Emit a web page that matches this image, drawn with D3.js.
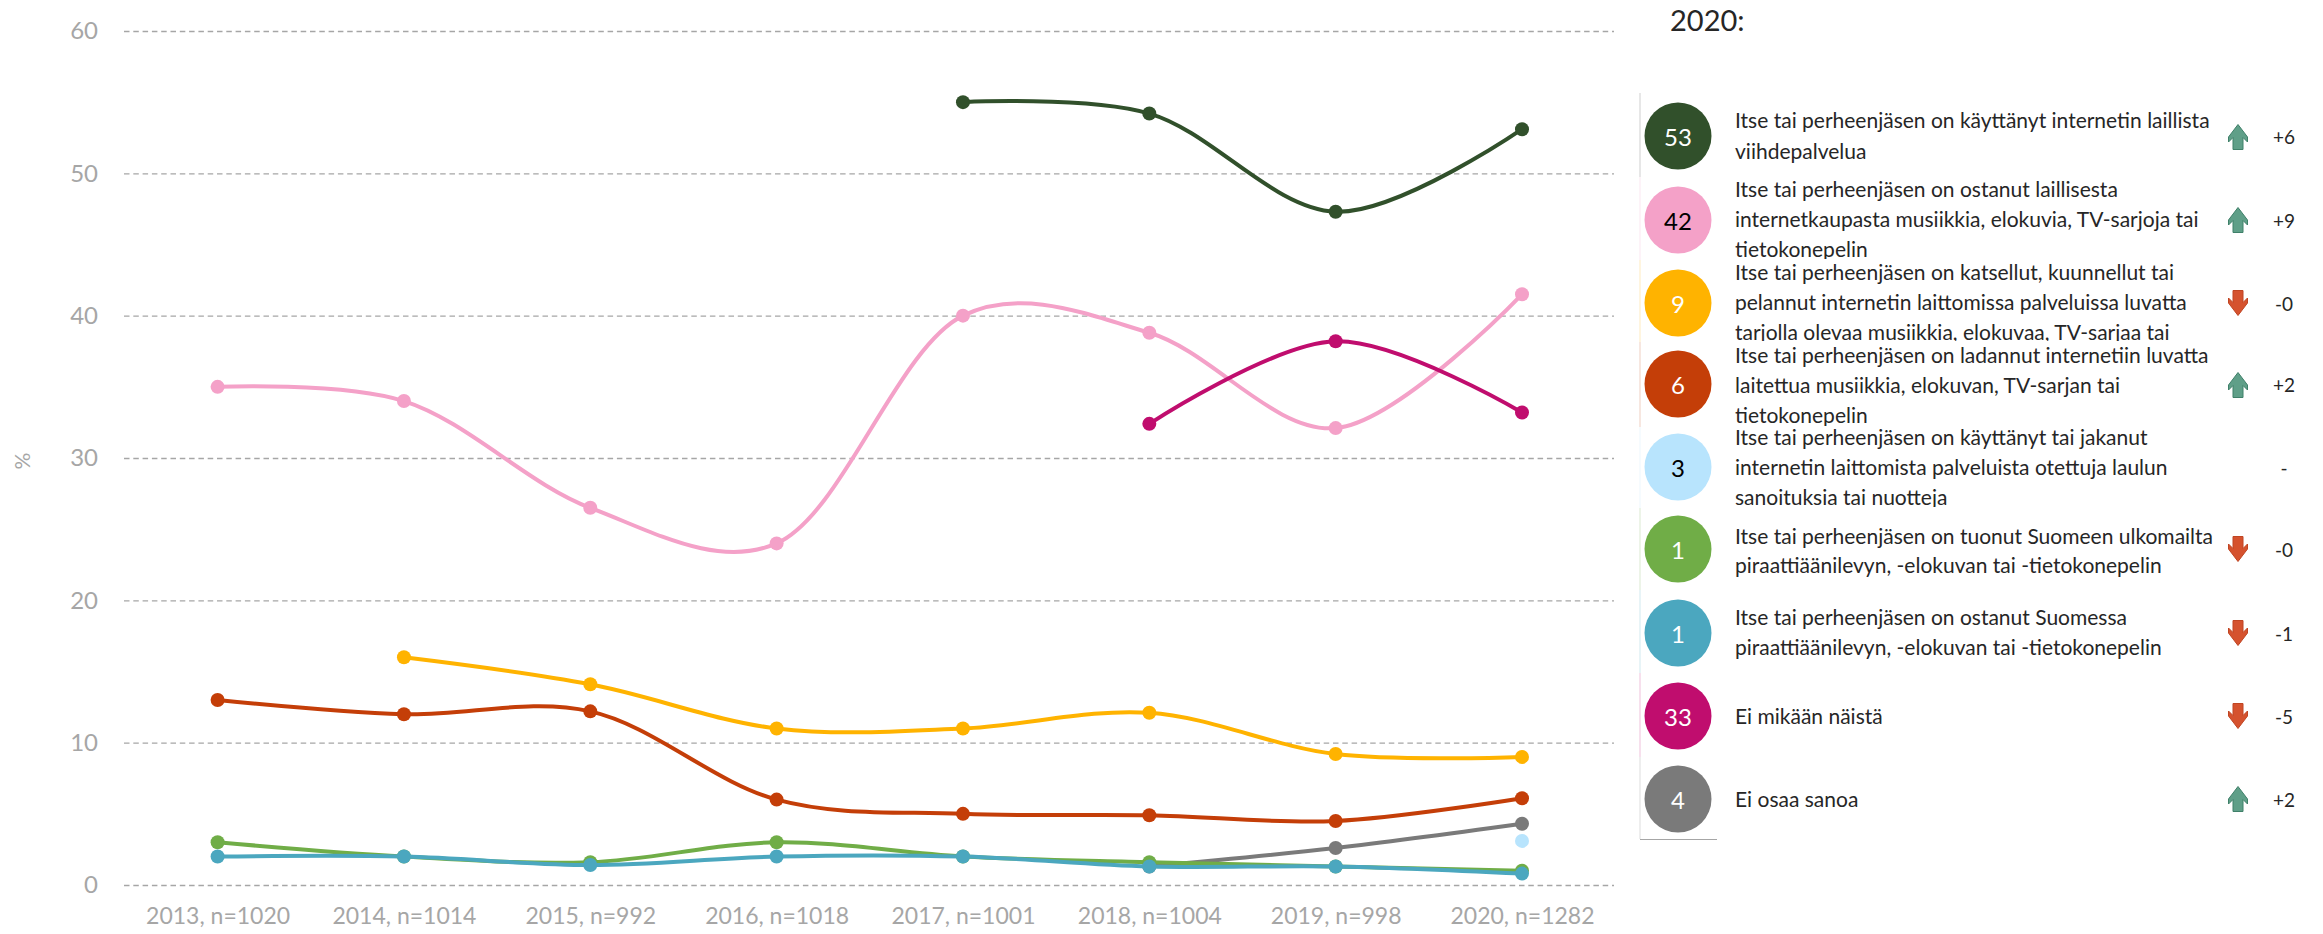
<!DOCTYPE html>
<html lang='fi'>
    <head>
        <meta charset="utf-8">
        <title>Internetin viihdepalvelut 2013-2020</title>
        <script src="https://d3js.org/d3.v7.min.js"></script>
        <style>
            html, body { margin:0; padding:0; background:white; }
            svg { display:block; font-family:Lato, "Open Sans", sans-serif; }
            .tick text { fill:#a6a6a6; }
            .legend_text { fill:#262626; font-size:21px; }
        </style>
    </head>
    <body>
        <svg id="chart" width="2323" height="934"></svg>
        <script>
        // x axis labels
        const years = ["2013, n=1020","2014, n=1014","2015, n=992","2016, n=1018","2017, n=1001","2018, n=1004","2019, n=998","2020, n=1282"];
        const yTicks = [0,10,20,30,40,50,60];

        // series values, null = not asked that year
        const laillinenPalvelu = [null,null,null,null,55,54.2,47.3,53.1];
        const laillinenKauppa = [35,34,26.5,24,40,38.8,32.1,41.5];
        const laittomatPalvelut = [null,16,14.1,11,11,12.1,9.2,9];
        const ladannut = [13,12,12.2,6,5,4.9,4.5,6.1];
        const sanoitukset = [null,null,null,null,null,null,null,3.1];
        const tuonut = [3,2,1.6,3,2,1.6,1.3,1];
        const ostanut = [2,2,1.4,2,2,1.3,1.3,0.8];
        const eiMikaan = [null,null,null,null,null,32.4,38.2,33.2];
        const eiOsaa = [null,null,null,null,null,1.3,2.6,4.3];

        // legend columns
        const legendValues = [53,42,9,6,3,1,1,33,4];
        const legendChanges = ["+6","+9","-0","+2","-","-0","-1","-5","+2"];
        const legendColors = ["#31502b","#f4a1c8","#ffb300","#c43e08","#b8e4fd","#70ad47","#4ba7bf","#c00d6e","#7a7a7a"];
        const legendLabels = [
            ["Itse tai perheenjäsen on käyttänyt internetin laillista","viihdepalvelua"],
            ["Itse tai perheenjäsen on ostanut laillisesta","internetkaupasta musiikkia, elokuvia, TV-sarjoja tai","tietokonepelin"],
            ["Itse tai perheenjäsen on katsellut, kuunnellut tai","pelannut internetin laittomissa palveluissa luvatta","tarjolla olevaa musiikkia, elokuvaa, TV-sarjaa tai"],
            ["Itse tai perheenjäsen on ladannut internetiin luvatta","laitettua musiikkia, elokuvan, TV-sarjan tai","tietokonepelin"],
            ["Itse tai perheenjäsen on käyttänyt tai jakanut","internetin laittomista palveluista otettuja laulun","sanoituksia tai nuotteja"],
            ["Itse tai perheenjäsen on tuonut Suomeen ulkomailta","piraattiäänilevyn, -elokuvan tai -tietokonepelin"],
            ["Itse tai perheenjäsen on ostanut Suomessa","piraattiäänilevyn, -elokuvan tai -tietokonepelin"],
            ["Ei mikään näistä"],
            ["Ei osaa sanoa"]
        ];

        // gray first so it stays under the teal and green at 2018
        const series = [
            {values:eiOsaa, color:legendColors[8]},
            {values:laillinenPalvelu, color:legendColors[0]},
            {values:laillinenKauppa, color:legendColors[1]},
            {values:laittomatPalvelut, color:legendColors[2]},
            {values:ladannut, color:legendColors[3]},
            {values:sanoitukset, color:legendColors[4]},
            {values:tuonut, color:legendColors[5]},
            {values:ostanut, color:legendColors[6]},
            {values:eiMikaan, color:legendColors[7]}
        ];

        const svg = d3.select("#chart");

        const x_scale = d3.scalePoint().domain(years).range([217.6,1522]);
        const y_scale = d3.scaleLinear().domain([0,60]).range([885,31]);

        // grid + y labels
        const y_axis = svg.append("g")
            .attr("transform","translate(124,0)")
            .call(d3.axisLeft(y_scale).tickValues(yTicks).tickSize(-1490).tickPadding(26));
        y_axis.select(".domain").remove();
        y_axis.selectAll("line").attr("stroke","#a6a6a6").attr("stroke-width",1.3).attr("stroke-dasharray","5.5,3.8");
        y_axis.selectAll("text").style("font-size","24px").style("font-family","Lato");

        // x labels
        const x_axis = svg.append("g")
            .attr("transform","translate(0,885)")
            .call(d3.axisBottom(x_scale).tickSize(0).tickPadding(23));
        x_axis.select(".domain").remove();
        x_axis.selectAll("text").style("font-size","23px").style("font-family","Lato");

        svg.append("text")
            .attr("transform","translate(23,461) rotate(-90)")
            .attr("text-anchor","middle").attr("dy","0.35em")
            .attr("fill","#a6a6a6").style("font-size","21px")
            .text("%");

        const line = d3.line()
            .defined(d => d.v !== null)
            .x(d => x_scale(d.year))
            .y(d => y_scale(d.v))
            .curve(d3.curveCatmullRom.alpha(0.25));

        series.forEach(s => {
            const pts = s.values.map((v,i) => ({year:years[i], v:v}));
            svg.append("path")
                .attr("d",line(pts))
                .attr("fill","none")
                .attr("stroke",s.color)
                .attr("stroke-width",4);
            svg.selectAll(null)
                .data(pts.filter(d => d.v !== null))
                .join("circle")
                .attr("cx",d => x_scale(d.year))
                .attr("cy",d => y_scale(d.v))
                .attr("r",7)
                .attr("fill",s.color);
        });

        // legend on the right
        svg.append("text").attr("x",1670).attr("y",31)
            .attr("fill","#262626").style("font-size","29px").text("2020:");

        const rowTops = [93,177,260,342,427,508,590,673,757,839];
        const circleY = [136,220,303,384,467,549,633,716,799];
        const lineY = [[121,152],[190,220,250],[273,303,333],[356,386,416],[438,468,498],[537,566],[618,648],[717],[800]];
        const arrowUp = "M0,-12.5 L9.5,0 L9.5,5 L5,0.5 L5,12.5 L-5,12.5 L-5,0.5 L-9.5,5 L-9.5,0 Z";
        const arrowDown = "M0,12.5 L9.5,0 L9.5,-5 L5,-0.5 L5,-12.5 L-5,-12.5 L-5,-0.5 L-9.5,-5 L-9.5,0 Z";

        legendValues.forEach((val,i) => {
            // faint colored edge on the left of each row
            svg.append("line")
                .attr("x1",1640).attr("x2",1640)
                .attr("y1",rowTops[i]).attr("y2",rowTops[i+1])
                .attr("stroke",i == 0 ? "#cfcfcf" : legendColors[i])
                .attr("stroke-opacity",i == 0 ? 1 : 0.25)
                .attr("stroke-width",1);

            svg.append("circle")
                .attr("cx",1678).attr("cy",circleY[i]).attr("r",33.5)
                .attr("fill",legendColors[i]);

            svg.append("text")
                .attr("x",1678).attr("y",circleY[i]+2)
                .attr("text-anchor","middle").attr("dy","0.35em")
                .attr("fill",(i == 1 || i == 4) ? "black" : "white")
                .style("font-size","24px")
                .text(val);

            // long labels get cut at the row edge
            svg.append("clipPath").attr("id","row"+i)
                .append("rect")
                .attr("x",1730).attr("width",500)
                .attr("y",rowTops[i]).attr("height",rowTops[i+1]-rowTops[i]-1);

            const g = svg.append("g").attr("clip-path","url(#row"+i+")");
            legendLabels[i].forEach((t,j) => {
                g.append("text")
                    .attr("class","legend_text")
                    .attr("x",1735).attr("y",lineY[i][j])
                    .attr("dy","0.35em")
                    .text(t);
            });

            const change = legendChanges[i];
            if(change != "-"){
                svg.append("path")
                    .attr("d",change[0] == "+" ? arrowUp : arrowDown)
                    .attr("transform","translate(2238,"+(circleY[i]+(i == 0 ? 1 : i == 3 ? 1 : 0))+")")
                    .attr("fill",change[0] == "+" ? "#5f9f88" : "#d5522e")
                    .attr("stroke",change[0] == "+" ? "#3f8069" : "#c04522")
                    .attr("stroke-width",1);
            }
            svg.append("text")
                .attr("x",2284).attr("y",circleY[i]+1)
                .attr("text-anchor","middle").attr("dy","0.35em")
                .attr("fill","#262626").style("font-size","19px")
                .text(change);
        });

        svg.append("line")
            .attr("x1",1640).attr("x2",1717)
            .attr("y1",839.5).attr("y2",839.5)
            .attr("stroke","#a6a6a6").attr("stroke-width",1.2);
        </script>
    </body>
</html>
